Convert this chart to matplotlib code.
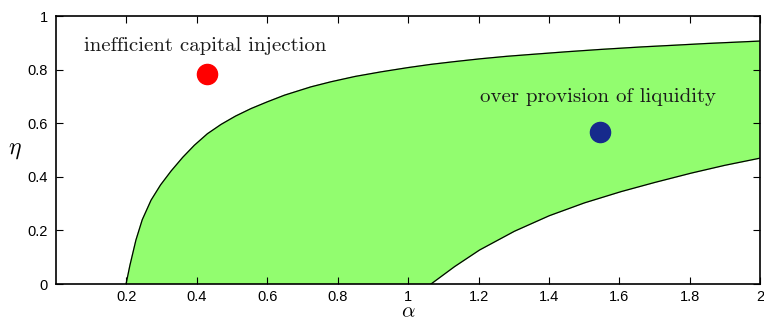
import matplotlib.pyplot as plt

# boundary of the shaded region
upper_alpha = [0.199, 0.21, 0.227, 0.245, 0.27, 0.297, 0.327, 0.36, 0.393, 0.43, 0.469,
               0.51, 0.554, 0.60, 0.649, 0.724, 0.781, 0.85, 0.923, 1.00, 1.065, 1.13,
               1.207, 1.28, 1.349, 1.45, 1.55, 1.662, 1.75, 1.85, 2.00]
upper_eta = [0.00, 0.07, 0.164, 0.24, 0.313, 0.37, 0.422, 0.473, 0.518, 0.561, 0.596,
             0.627, 0.655, 0.68, 0.705, 0.736, 0.755, 0.775, 0.792, 0.808, 0.82, 0.83,
             0.841, 0.85, 0.857, 0.867, 0.876, 0.885, 0.891, 0.898, 0.907]
lower_alpha = [1.065, 1.132, 1.203, 1.302, 1.401, 1.501, 1.605, 1.70, 1.804, 1.899, 2.00]
lower_eta = [0.00, 0.065, 0.127, 0.197, 0.255, 0.303, 0.345, 0.379, 0.414, 0.443, 0.47]

points = {
    "inefficient capital injection": (0.43, 0.785, "#ff0000", 0.425, 0.89),
    "over provision of liquidity": (1.545, 0.567, "#162a8c", 1.54, 0.70),
}

x_ticks = [0.2, 0.4, 0.6, 0.8, 1.0, 1.2, 1.4, 1.6, 1.8, 2.0]
x_labels = ["0.2", "0.4", "0.6", "0.8", "1", "1.2", "1.4", "1.6", "1.8", "2"]
y_ticks = [0, 0.2, 0.4, 0.6, 0.8, 1.0]
y_labels = ["0", "0.2", "0.4", "0.6", "0.8", "1"]

plt.rcParams["mathtext.fontset"] = "cm"
plt.rcParams["font.family"] = ["Liberation Sans", "DejaVu Sans"]

fig = plt.figure(figsize=(7.64, 3.23), dpi=100)
ax = fig.add_axes([0.0733, 0.1207, 0.9217, 0.8293])

# upper boundary left to right, then lower boundary back from the right edge
poly_x = upper_alpha + lower_alpha[::-1]
poly_y = upper_eta + lower_eta[::-1]
ax.fill(poly_x, poly_y, color="#92fd6f", zorder=1)
ax.plot(upper_alpha, upper_eta, color="black", lw=0.9, zorder=2)
ax.plot(lower_alpha, lower_eta, color="black", lw=0.9, zorder=2)

for label, (px, py, col, tx, ty) in points.items():
    ax.plot(px, py, "o", color=col, markersize=14.5, zorder=3)
    ax.text(tx, ty, label, family="cmr10", fontsize=15, ha="center", va="center", color="#1a1a1a")

ax.set_xlim(0, 2)
ax.set_ylim(0, 1)
ax.set_xticks(x_ticks)
ax.set_xticklabels(x_labels)
ax.set_yticks(y_ticks)
ax.set_yticklabels(y_labels)
ax.tick_params(direction="in", top=True, right=True, length=5, width=0.8, labelsize=10.5, pad=6)
ax.tick_params(axis="x", pad=4.5)
for s in ax.spines.values():
    s.set_linewidth(1.2)

ax.set_xlabel(r"$\alpha$", fontsize=15, va="center")
ax.xaxis.set_label_coords(0.5, -0.104)
ax.set_ylabel(r"$\eta$", fontsize=17, rotation=0, va="center")
ax.yaxis.set_label_coords(-0.058, 0.5)

fig.savefig("out.png", dpi=100)
